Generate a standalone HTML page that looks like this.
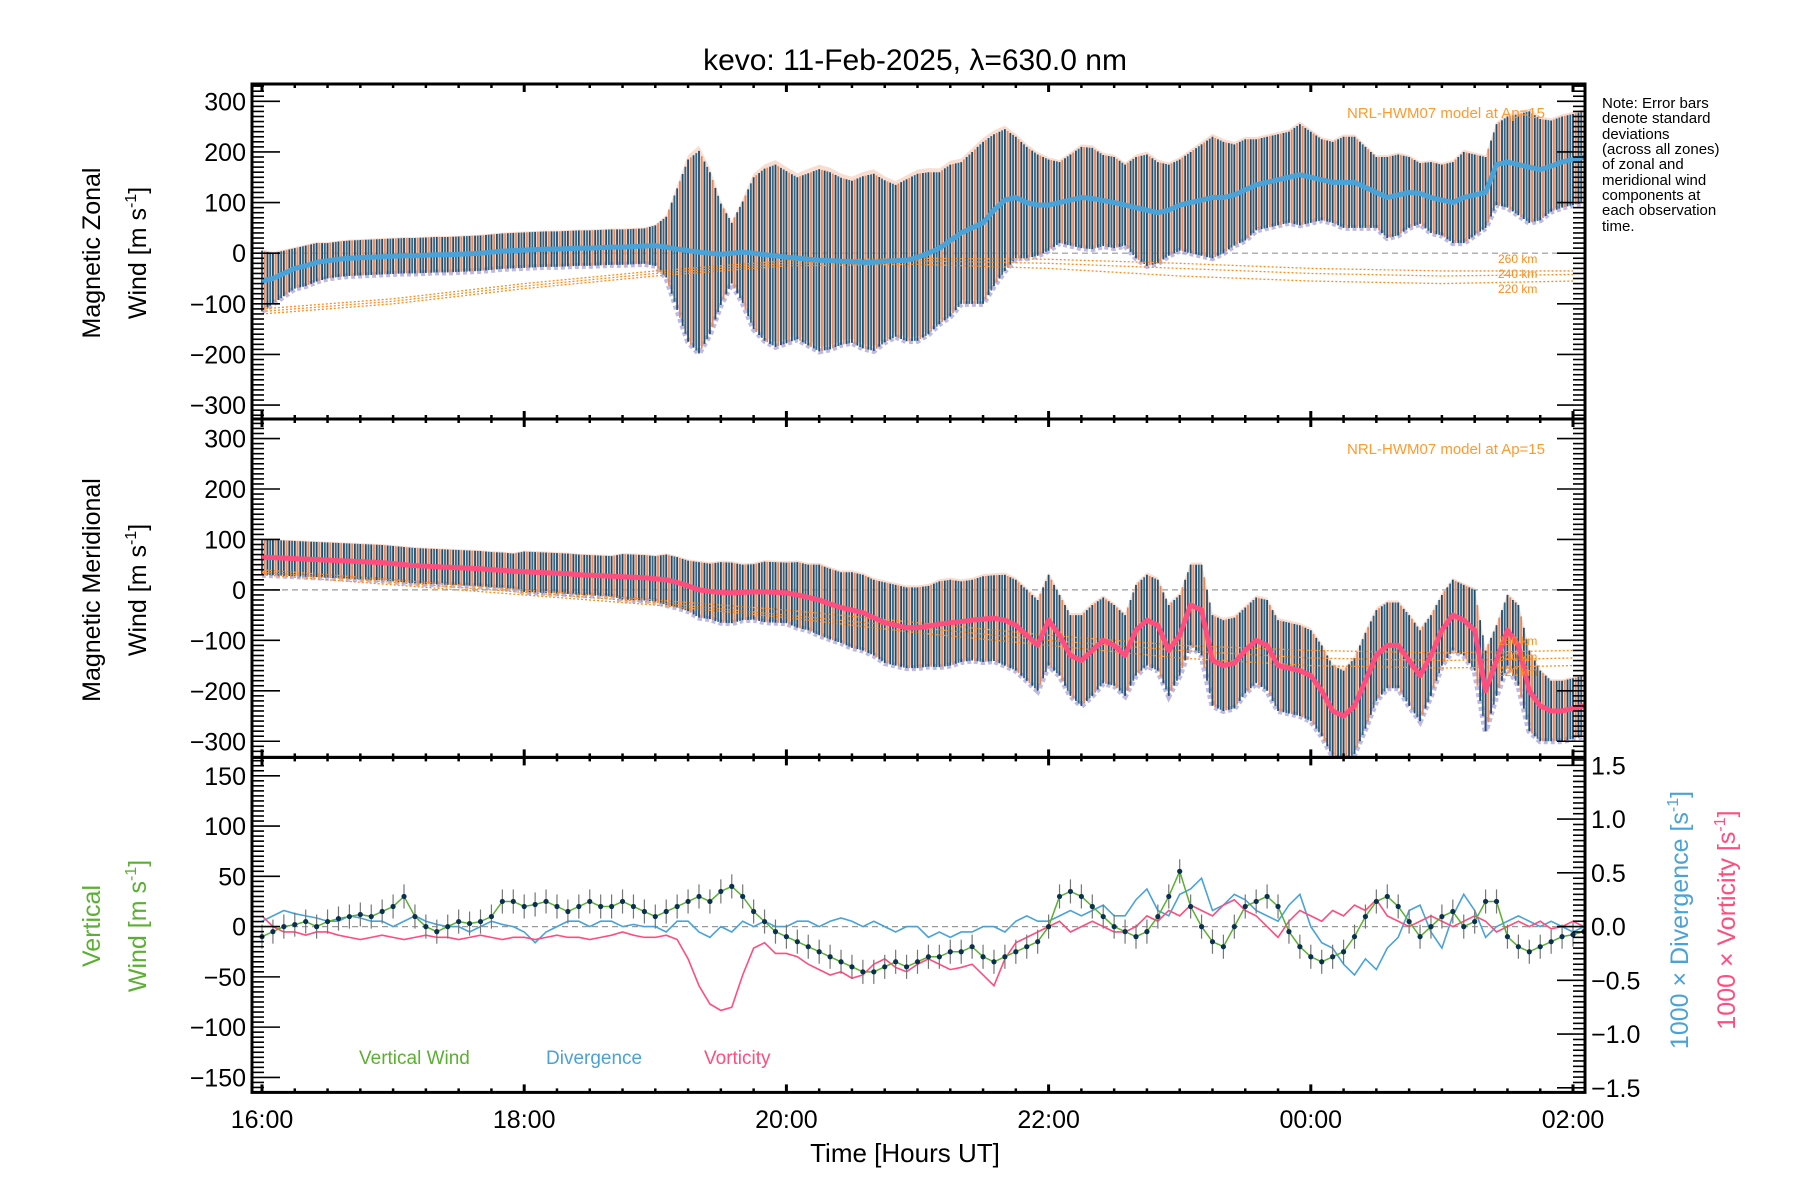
<!DOCTYPE html>
<html><head><meta charset="utf-8"><style>
html,body{margin:0;padding:0;background:#fff;}
svg{display:block;font-family:"Liberation Sans",sans-serif;}
</style></head><body>
<svg id="chart" width="1800" height="1200" viewBox="0 0 1800 1200" xmlns="http://www.w3.org/2000/svg">
<defs>
<clipPath id="c1"><rect x="252" y="84" width="1333" height="335"/></clipPath>
<clipPath id="c2"><rect x="252" y="419" width="1333" height="338.4"/></clipPath>
<clipPath id="c3"><rect x="252" y="757.4" width="1333" height="335"/></clipPath>
</defs>
<text x="915" y="70" font-size="30" text-anchor="middle" fill="#000">kevo: 11-Feb-2025, λ=630.0 nm</text>
<g id="g1" clip-path="url(#c1)"></g>
<g id="g2" clip-path="url(#c2)"></g>
<g id="g3" clip-path="url(#c3)"></g>
<g id="axes"></g>
<g font-size="25" text-anchor="middle">
<text transform="translate(100,253) rotate(-90)">Magnetic Zonal</text>
<text transform="translate(146,253) rotate(-90)">Wind [m s<tspan dy="-10" font-size="16">-1</tspan><tspan dy="10">]</tspan></text>
</g>
<g font-size="25" text-anchor="middle">
<text transform="translate(100,590) rotate(-90)">Magnetic Meridional</text>
<text transform="translate(146,590) rotate(-90)">Wind [m s<tspan dy="-10" font-size="16">-1</tspan><tspan dy="10">]</tspan></text>
</g>
<g font-size="25" text-anchor="middle" fill="#5ab030">
<text transform="translate(100,926) rotate(-90)">Vertical</text>
<text transform="translate(146,926) rotate(-90)">Wind [m s<tspan dy="-10" font-size="16">-1</tspan><tspan dy="10">]</tspan></text>
</g>
<text transform="translate(1688,920) rotate(-90)" font-size="25" text-anchor="middle" fill="#4aa3d8">1000 × Divergence [s<tspan dy="-10" font-size="16">-1</tspan><tspan dy="10">]</tspan></text>
<text transform="translate(1735,920) rotate(-90)" font-size="25" text-anchor="middle" fill="#ff4d7d">1000 × Vorticity [s<tspan dy="-10" font-size="16">-1</tspan><tspan dy="10">]</tspan></text>
<text x="905" y="1162" font-size="26" text-anchor="middle">Time [Hours UT]</text>
<g font-size="15" fill="#000">
<text x="1602" y="108">Note: Error bars</text>
<text x="1602" y="123">denote standard</text>
<text x="1602" y="139">deviations</text>
<text x="1602" y="154">(across all zones)</text>
<text x="1602" y="169">of zonal and</text>
<text x="1602" y="185">meridional wind</text>
<text x="1602" y="200">components at</text>
<text x="1602" y="215">each observation</text>
<text x="1602" y="231">time.</text>
</g>
<text x="1545" y="118" font-size="15" text-anchor="end" fill="#ff9a30">NRL-HWM07 model at Ap=15</text>
<text x="1545" y="454" font-size="15" text-anchor="end" fill="#ff9a30">NRL-HWM07 model at Ap=15</text>
<g font-size="12" fill="#ff8c1a">
<text x="1498" y="263">260 km</text><text x="1498" y="278">240 km</text><text x="1498" y="293">220 km</text>
</g>
<g font-size="12" fill="#ff8c1a">
<text x="1498" y="645">260 km</text><text x="1498" y="661">240 km</text><text x="1498" y="676">220 km</text>
</g>
<g font-size="19">
<text x="359" y="1064" fill="#5ab030">Vertical Wind</text>
<text x="546" y="1064" fill="#4aa3d8">Divergence</text>
<text x="704" y="1064" fill="#ff4d7d">Vorticity</text>
</g>
</svg>
<script>
// 5-minute samples from 16:00 UT
const zonalMean = [-55,-50,-40,-30,-25,-18,-15,-12,-10,-9,-8,-7,
-6,-5,-5,-4,-3,-3,-2,-1,0,2,4,5,
6,7,8,8,9,10,10,11,12,12,13,14,
15,12,8,5,2,0,-2,0,2,0,-3,-5,
-8,-10,-12,-14,-15,-16,-17,-18,-18,-16,-15,-14,
-8,0,10,25,40,50,60,85,105,110,100,95,
95,100,105,110,108,104,100,95,90,85,80,85,
95,100,105,110,110,115,125,135,140,145,150,155,
150,145,140,140,140,130,120,110,115,120,118,110,
105,100,110,115,120,175,180,175,170,165,172,180,185,190];
const zonalErr = [60,50,45,40,40,38,35,35,35,35,35,35,
35,35,35,35,35,35,35,35,35,35,35,35,
35,35,35,35,35,35,35,35,35,35,35,35,
40,60,120,180,200,160,100,60,100,150,170,180,
170,160,170,180,175,165,160,170,175,160,150,160,
165,160,150,150,140,150,160,150,140,120,110,100,
90,80,90,100,100,90,90,80,100,110,100,90,
90,100,110,120,110,100,100,90,90,90,90,100,
90,80,80,90,90,80,70,80,80,70,60,70,
70,80,90,80,70,80,90,100,110,100,90,90,90,90];
const meridMean = [65,64,63,62,61,60,59,58,57,56,55,54,
52,50,48,47,46,45,44,43,42,40,39,37,
36,35,34,33,32,30,29,28,27,26,25,24,
22,20,15,8,0,-3,-5,-6,-5,-4,-4,-5,
-6,-10,-15,-20,-28,-35,-40,-45,-55,-65,-70,-75,
-75,-72,-68,-65,-63,-60,-58,-56,-60,-70,-90,-110,
-60,-90,-130,-140,-120,-100,-110,-130,-80,-60,-70,-120,
-90,-30,-40,-140,-150,-145,-120,-100,-110,-150,-155,-160,
-170,-200,-240,-250,-230,-180,-130,-110,-110,-140,-170,-130,
-80,-50,-60,-80,-200,-140,-80,-110,-200,-230,-240,-240,-235,-230];
const meridErr = [35,35,35,35,35,35,35,35,35,35,35,35,
35,35,35,35,35,35,35,35,35,35,35,35,
40,40,40,40,40,40,40,40,40,45,45,45,
45,50,50,50,55,55,60,60,55,55,60,60,
60,65,65,70,70,70,75,75,75,80,80,80,
80,80,85,85,80,80,85,85,90,90,90,90,
90,80,80,90,90,85,80,80,90,90,90,90,
80,80,90,90,90,90,85,85,90,90,90,90,
90,90,90,90,95,95,90,85,85,90,90,80,
70,70,70,80,80,70,70,80,80,70,60,60,60,60];
const vertWind = [-10,-5,0,2,5,0,5,8,10,12,10,15,
20,30,10,0,-5,0,5,3,5,10,25,25,
20,22,25,20,15,20,25,20,20,25,20,15,
10,15,20,25,30,25,35,40,30,15,5,-5,
-10,-15,-20,-25,-30,-35,-40,-45,-45,-40,-35,-40,
-35,-30,-30,-25,-25,-20,-30,-35,-30,-25,-20,-15,
0,30,35,30,20,10,0,-5,-10,-5,10,30,
55,20,0,-15,-20,0,20,25,30,20,-5,-20,
-30,-35,-30,-25,-10,10,25,30,20,5,-10,0,
10,15,0,5,25,25,-10,-20,-25,-20,-15,-10,-8,-5];
const divergence = [0.05,0.1,0.15,0.12,0.1,0.08,0.05,0.05,0.1,0.08,0.05,0.05,
0.0,0.05,0.1,0.05,0.02,0.0,0.0,-0.05,0.0,0.05,0.02,0.0,
-0.05,-0.15,-0.05,0.0,0.05,0.05,0.0,0.05,0.05,0.0,0.02,0.0,
0.0,-0.05,0.05,0.05,-0.05,-0.1,0.0,-0.05,0.05,0.0,0.05,0.0,
0.0,0.05,0.05,0.0,0.05,0.08,0.05,0.0,0.05,0.0,-0.05,0.0,
0.0,-0.1,-0.05,-0.1,-0.05,-0.05,0.0,0.0,-0.05,0.05,0.1,0.05,
0.05,0.1,0.15,0.1,0.15,0.2,0.1,0.1,0.25,0.35,0.15,0.1,
0.3,0.35,0.45,0.15,0.2,0.3,0.25,0.15,0.1,0.05,0.2,0.3,
0.0,-0.15,-0.2,-0.35,-0.45,-0.3,-0.4,-0.2,-0.1,0.15,0.2,-0.05,
-0.2,0.1,0.3,0.15,-0.1,0.0,0.05,0.1,0.05,0.0,0.05,0.0,-0.05,0.0];
const vorticity = [0.1,0.0,-0.05,-0.05,-0.08,-0.05,-0.05,-0.08,-0.1,-0.12,-0.1,-0.08,
-0.1,-0.12,-0.1,-0.08,-0.1,-0.1,-0.12,-0.1,-0.08,-0.1,-0.12,-0.1,
-0.1,-0.12,-0.1,-0.08,-0.1,-0.1,-0.12,-0.1,-0.08,-0.05,-0.08,-0.1,
-0.1,-0.08,-0.12,-0.3,-0.55,-0.72,-0.78,-0.75,-0.45,-0.2,-0.15,-0.25,
-0.25,-0.28,-0.35,-0.4,-0.45,-0.42,-0.48,-0.45,-0.35,-0.3,-0.38,-0.42,
-0.35,-0.3,-0.35,-0.4,-0.38,-0.35,-0.45,-0.55,-0.3,-0.15,-0.1,-0.05,
0.0,0.05,-0.05,0.0,0.05,0.0,-0.05,-0.05,0.0,0.1,0.05,0.15,
0.1,0.2,0.15,0.1,0.2,0.25,0.15,0.1,0.0,-0.1,0.05,0.15,
0.1,0.05,0.15,0.1,0.2,0.15,0.25,0.1,0.05,0.0,0.05,0.1,
0.05,0.0,0.05,0.1,0.05,-0.05,0.0,0.05,0.0,0.05,-0.02,0.0,0.05,0.0];
// hourly model curves
const modelZ260 = [-110,-90,-60,-35,-15,-10,-12,-20,-30,-35,-35];
const modelZ240 = [-115,-95,-65,-40,-20,-15,-20,-30,-40,-45,-42];
const modelZ220 = [-120,-100,-70,-45,-25,-22,-30,-45,-55,-60,-55];
const modelM260 = [40,20,0,-20,-40,-65,-90,-110,-120,-125,-120];
const modelM240 = [35,15,-5,-25,-50,-75,-100,-120,-135,-140,-135];
const modelM220 = [30,10,-10,-30,-55,-85,-110,-135,-150,-155,-150];
const xTickLabels = ["16:00","18:00","20:00","22:00","00:00","02:00"];
const windTicks = [-300,-200,-100,0,100,200,300];
const vertTicks = [-150,-100,-50,0,50,100,150];
const rightTicks = [-1.5,-1.0,-0.5,0.0,0.5,1.0,1.5];

const NS="http://www.w3.org/2000/svg";
const L=252,R=1585;
const xH=h=>262+131.1*h;
const xMin=m=>xH(m/60);
const y1=v=>253.2-0.5063*v;
const y2=v=>589.9-0.5045*v;
const y3=v=>926.6-1.0053*v;
const y3r=v=>926.6-107.5*v;
function el(tag,attrs,parent){const e=document.createElementNS(NS,tag);for(const k in attrs)e.setAttribute(k,attrs[k]);parent.appendChild(e);return e;}
const g1=document.getElementById('g1'),g2=document.getElementById('g2'),g3=document.getElementById('g3'),ax=document.getElementById('axes');

function windPanel(g,mean,err,ys,lineColor,models,prefix){
  let z=el('line',{x1:L,x2:R,y1:ys(0),y2:ys(0),stroke:'#999','stroke-dasharray':'6,4','stroke-width':1.2},g);
  
  
  let up=[],dn=[];
  mean.forEach((m,i)=>{up.push(xMin(i*5)+','+ys(m+err[i]*1.05));dn.unshift(xMin(i*5)+','+ys(m-err[i]*0.95));});
  let band=el('polygon',{points:up.concat(dn).join(' '),fill:'#f5b49a','fill-opacity':0.45},g);
  
  
  let lo=[];
  mean.forEach((m,i)=>{lo.push(xMin(i*5)+','+ys(m-err[i]));});
  let lav=el('polyline',{points:lo.join(' '),fill:'none',stroke:'#b0a8dc','stroke-width':6,'stroke-dasharray':'4,3','stroke-opacity':0.8},g);
  
  
  const cols=['#1d4e6e','#e8885a','#1d4e6e','#2f6a8c'];
  for(let i=0;i<mean.length-1;i++){
    for(let k=0;k<4;k++){
      const f=k/4,m=mean[i]+(mean[i+1]-mean[i])*f,e=err[i]+(err[i+1]-err[i])*f;
      const x=xMin((i+f)*5);
      let b=el('line',{x1:x,x2:x,y1:ys(m-e),y2:ys(m+e),stroke:cols[k],'stroke-width':1.8},g);
      
      
    }
  }
  models.forEach((md,j)=>{
    let p=md.map((v,h)=>xH(h)+','+ys(v)).join(' ');
    let pl=el('polyline',{points:p,fill:'none',stroke:'#ff8c1a','stroke-width':1.3,'stroke-dasharray':'2,2'},g);
    
    
  });
  let line=el('polyline',{points:mean.map((m,i)=>xMin(i*5)+','+ys(m)).join(' '),fill:'none',stroke:lineColor,'stroke-width':5,'stroke-linejoin':'round'},g);
  
  
}
windPanel(g1,zonalMean,zonalErr,y1,'#4aa3d8',[modelZ260,modelZ240,modelZ220],'zonal');
windPanel(g2,meridMean,meridErr,y2,'#ff4d7d',[modelM260,modelM240,modelM220],'meridional');

// panel 3
let z3=el('line',{x1:L,x2:R,y1:y3(0),y2:y3(0),stroke:'#999','stroke-dasharray':'6,4','stroke-width':1.2},g3);


let dl=el('polyline',{points:divergence.map((v,i)=>xMin(i*5)+','+y3r(v)).join(' '),fill:'none',stroke:'#4aa3d8','stroke-width':1.6},g3);


let vl=el('polyline',{points:vorticity.map((v,i)=>xMin(i*5)+','+y3r(v)).join(' '),fill:'none',stroke:'#ff4d7d','stroke-width':1.6},g3);


vertWind.forEach((v,i)=>{
  let b=el('line',{x1:xMin(i*5),x2:xMin(i*5),y1:y3(v-12),y2:y3(v+12),stroke:'#777','stroke-width':1.2},g3);
  
  
});
let wl=el('polyline',{points:vertWind.map((v,i)=>xMin(i*5)+','+y3(v)).join(' '),fill:'none',stroke:'#5ab030','stroke-width':1.5},g3);


vertWind.forEach((v,i)=>{
  let c=el('circle',{cx:xMin(i*5),cy:y3(v),r:2.6,fill:'#0a3050'},g3);
  
  
});

// axes
const panels=[[84,419,y1,windTicks,-330,340],[419,757.4,y2,windTicks,-340,340],[757.4,1092.4,y3,vertTicks,-170,170]];
panels.forEach((p,pi)=>{
  const [t,b,ys,ticks,lo,hi]=p;
  let fr=el('rect',{x:L,y:t,width:R-L,height:b-t,fill:'none',stroke:'#000','stroke-width':3},ax);
  
  
  const step=pi==2?5:10;
  for(let v=Math.ceil(lo/step)*step;v<=hi;v+=step){
    const yy=ys(v);if(yy<t+2||yy>b-2)continue;
    const major=ticks.includes(v);const len=major?28:12;
    let tk=el('line',{x1:L,x2:L+len,y1:yy,y2:yy,stroke:'#000','stroke-width':1.6},ax);
    
    
    if(pi<2){
      let tr=el('line',{x1:R,x2:R-len,y1:yy,y2:yy,stroke:'#000','stroke-width':1.6},ax);
      
      
    }
  }
  ticks.forEach(v=>{
    const yy=ys(v);
    let lb=el('text',{x:L-6,y:yy+9,'font-size':25,'text-anchor':'end'},ax);
    lb.textContent=(v<0?'−':'')+Math.abs(v);
    
    
  });
  for(let m=0;m<=600;m+=15){
    const xx=xMin(m);const major=m%120==0;const len=major?8:4;
    let a=el('line',{x1:xx,x2:xx,y1:b,y2:b-len,stroke:'#000','stroke-width':major?3:2.5},ax);
    
    
    let c=el('line',{x1:xx,x2:xx,y1:t,y2:t+len,stroke:'#000','stroke-width':major?3:2.5},ax);
    
    
  }
});
for(let v=-1.55;v<=1.575;v+=0.05){
  const r=Math.round(v*100)/100;const yy=y3r(r);
  if(yy<759||yy>1091)continue;
  const major=Math.abs(r*2-Math.round(r*2))<1e-6;const len=major?28:12;
  let tk=el('line',{x1:R,x2:R-len,y1:yy,y2:yy,stroke:'#000','stroke-width':1.6},ax);
  
  
}
rightTicks.forEach(v=>{
  let lb=el('text',{x:R+6,y:y3r(v)+9,'font-size':25},ax);
  lb.textContent=(v<0?'−':'')+Math.abs(v).toFixed(1);
  
  
});
xTickLabels.forEach((s,i)=>{
  let lb=el('text',{x:xH(i*2),y:1128,'font-size':25,'text-anchor':'middle'},ax);
  lb.textContent=s;
  
  
});
</script>
</body></html>
